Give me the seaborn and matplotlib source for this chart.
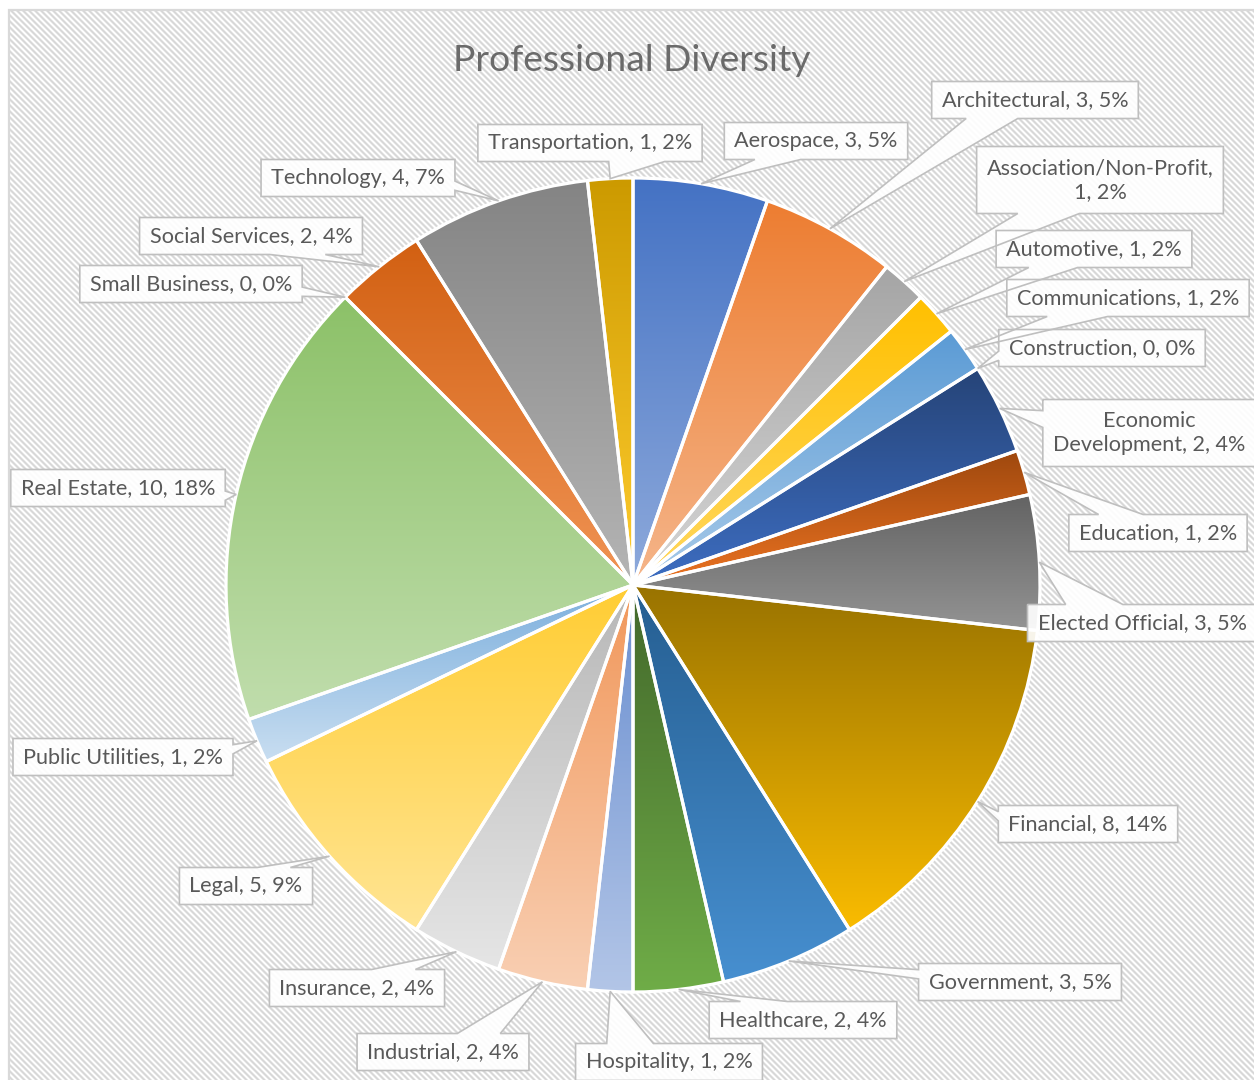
import colorsys

import numpy as np
import matplotlib
matplotlib.use("Agg")
import matplotlib.pyplot as plt
from matplotlib.colors import to_rgb
from matplotlib.patches import Polygon, Rectangle
import seaborn as sns

# ---- data ----
categories = [
    "Aerospace", "Architectural", "Association/Non-Profit", "Automotive",
    "Communications", "Construction", "Economic Development", "Education",
    "Elected Official", "Financial", "Government", "Healthcare", "Hospitality",
    "Industrial", "Insurance", "Legal", "Public Utilities", "Real Estate",
    "Small Business", "Social Services", "Technology", "Transportation",
]
counts = [3, 3, 1, 1, 1, 0, 2, 1, 3, 8, 3, 2, 1, 2, 2, 5, 1, 10, 0, 2, 4, 1]

# label text where excel wrapped the line
label_names = {
    "Association/Non-Profit": "Association/Non-Profit,\n",
    "Economic Development": "Economic\nDevelopment, ",
}

# office theme palette (accents, then darker, then lighter variants)
slice_colors = [
    "#4472C4", "#ED7D31", "#A5A5A5", "#FFC000", "#5B9BD5", "#70AD47",
    "#264478", "#9E480E", "#636363", "#997300", "#255E91", "#43682B",
    "#698ED0", "#F1975A", "#B7B7B7", "#FFCD33", "#7CAFDD", "#8CC168",
    "#335AA1", "#D26012", "#848484", "#CC9A00",
]

# ---- layout (pixels, y down) ----
W, H = 1254, 1080
CX, CY, R = 633, 585, 407
label_centers = [
    (816, 141), (1035, 100), (1100, 180), (1094, 249), (1128, 298),
    (1102, 348), (1149, 433), (1158, 533), (1142, 623), (1088, 824),
    (1020, 982), (803, 1020), (669, 1062), (443, 1052), (357, 988),
    (246, 886), (123, 757), (118, 488), (191, 284), (251, 236),
    (358, 178), (590, 143),
]

sns.set_theme(style="white")
plt.rcParams["font.family"] = ["Lato", "DejaVu Sans"]
TEXT = "#595959"
EDGE = "#BFBFBF"


def lighter(c, amt=0.19):
    h, l, s = colorsys.rgb_to_hls(*to_rgb(c))
    return colorsys.hls_to_rgb(h, min(l + amt, 0.9), s)


def callout_pts(cx, cy, w, h, tx, ty):
    # wedgeRectCallout geometry, pixel coords
    l, r, t, b = cx - w / 2, cx + w / 2, cy - h / 2, cy + h / 2
    dx, dy = tx - cx, ty - cy
    dq = dx * h / w
    x1 = l + w * (7 if dx > 0 else 2) / 12
    x2 = l + w * (10 if dx > 0 else 5) / 12
    y1 = t + h * (7 if dy > 0 else 2) / 12
    y2 = t + h * (10 if dy > 0 else 5) / 12
    if abs(dy) >= abs(dq):
        if dy < 0:
            pts = [(l, t), (x1, t), (tx, ty), (x2, t), (r, t), (r, b), (l, b)]
        else:
            pts = [(l, t), (r, t), (r, b), (x2, b), (tx, ty), (x1, b), (l, b)]
    else:
        if dx < 0:
            pts = [(l, t), (r, t), (r, b), (l, b), (l, y2), (tx, ty), (l, y1)]
        else:
            pts = [(l, t), (r, t), (r, y1), (tx, ty), (r, y2), (r, b), (l, b)]
    return [(x, H - y) for x, y in pts]


fig = plt.figure(figsize=(W / 100, H / 100), dpi=100)
fig.patch.set_facecolor("white")

# hatched chart area background
yy, xx = np.mgrid[0:H, 0:W]
stripe = np.array([216, 216, 234, 255, 255, 234], dtype=np.uint8)
bg = stripe[(xx - yy) % 6]
bg[:10, :] = 255
bg[:, :9] = 255
fig.figimage(np.dstack([bg, bg, bg]), xo=0, yo=0, origin="upper", zorder=-5)

ax = fig.add_axes([0, 0, 1, 1])
ax.set_facecolor("none")
ax.set_zorder(1)

palette = sns.color_palette(slice_colors)
wedges, _ = ax.pie(
    counts, colors=palette, startangle=90, counterclock=False,
    radius=R, center=(CX, H - CY),
    wedgeprops=dict(edgecolor="white", linewidth=2.3),
)
ax.axis("off")

# vertical gradient per slice, clipped to the wedge
for w, col, n in zip(wedges, palette, counts):
    if n == 0:
        continue
    ext = w.get_path().get_extents()
    top = np.array(to_rgb(col))
    bot = np.array(lighter(col))
    f = np.linspace(0, 1, 256)[:, None]
    grad = (top * (1 - f) + bot * f)[:, None, :]
    im = ax.imshow(grad, extent=(ext.x0, ext.x1, ext.y0, ext.y1),
                   origin="upper", aspect="auto", zorder=1, interpolation="bilinear")
    im.set_clip_path(w)
    w.set_facecolor("none")
    w.set_zorder(2)
ax.set_xlim(0, W)
ax.set_ylim(0, H)

# data callouts
total = sum(counts)
renderer = fig.canvas.get_renderer()
cum = 0
for name, n, (lx, ly) in zip(categories, counts, label_centers):
    mid = np.radians((cum + n / 2) / total * 360)
    cum += n
    tx = CX + R * np.sin(mid)
    ty = CY - R * np.cos(mid)
    pct = round(100 * n / total)
    head = label_names.get(name, name + ", ")
    txt = ax.text(lx, H - ly, f"{head}{n}, {pct}%", ha="center", va="center",
                  multialignment="center", fontsize=15.6, color=TEXT,
                  linespacing=1.3, zorder=5)
    bb = txt.get_window_extent(renderer)
    bw = bb.width + 20
    bh = 37 if "\n" not in txt.get_text() else 67
    ax.add_patch(Polygon(callout_pts(lx, ly, bw, bh, tx, ty), closed=True,
                         facecolor="white", alpha=0.92, edgecolor="none", zorder=3))
    ax.add_patch(Polygon(callout_pts(lx, ly, bw, bh, tx, ty), closed=True,
                         facecolor="none", edgecolor=EDGE, linewidth=1.2, zorder=4))

ax.text(632, H - 71, "Professional Diversity", ha="center", va="baseline",
        fontsize=26.8, color="#6A6A6A", zorder=5)

# chart area border
fig.patches.append(Rectangle((9, -5), W, H - 10 + 5, transform=None,
                             facecolor="none", edgecolor="#D9D9D9", linewidth=1.6))

fig.savefig("out.png", dpi=100)
